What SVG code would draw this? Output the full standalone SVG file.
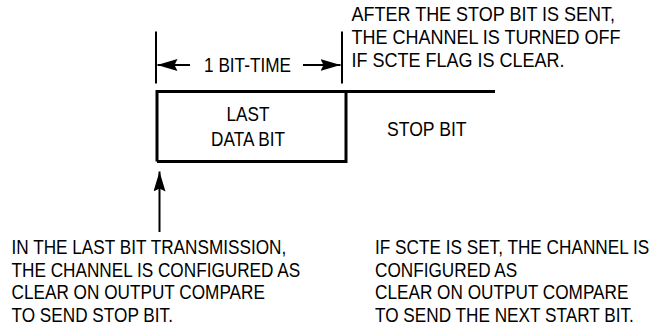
<svg xmlns="http://www.w3.org/2000/svg" width="659" height="336" viewBox="0 0 659 336">
  <style>
    text { font-family: "Liberation Sans", Arial, sans-serif; font-size: 20px; fill: #000; }
    .thin { stroke: #000; stroke-width: 2; fill: none; }
    .thick { stroke: #000; stroke-width: 3; fill: none; }
  </style>
  <defs>
    <marker id="head" viewBox="0 0 20 12" refX="20" refY="6" markerWidth="20" markerHeight="12" markerUnits="userSpaceOnUse" orient="auto">
      <path d="M0,0 L20,6 L0,12 L3,6 z" fill="#000"/>
    </marker>
  </defs>
  <rect width="659" height="336" fill="#fff"/>

  <!-- waveform: last data bit pulse followed by the stop-bit level -->
  <g id="waveform">
    <polyline class="thick" points="157,161.5 157,91.5 346,91.5 346,161.5 157,161.5"/>
    <line class="thick" x1="346" y1="91.5" x2="495" y2="91.5"/>
  </g>

  <g id="last-data-bit">
    <g transform="translate(248,0) scale(0.86,1)">
      <text x="0" y="121" text-anchor="middle">LAST</text>
      <text x="0" y="146" text-anchor="middle">DATA BIT</text>
    </g>
  </g>

  <g id="stop-bit">
    <g transform="translate(387,0) scale(0.88,1)">
      <text x="0" y="136.5">STOP BIT</text>
    </g>
  </g>

  <!-- bit-time dimension -->
  <g id="bit-time">
    <line class="thin" x1="156" y1="31.5" x2="156" y2="83.5"/>
    <line class="thin" x1="342" y1="31.5" x2="342" y2="83.5"/>
    <g transform="translate(247.5,0) scale(0.86,1)">
      <text x="0" y="72" text-anchor="middle">1 BIT-TIME</text>
    </g>
  </g>

  <g id="note-after-stop">
    <g transform="translate(351.5,0) scale(0.9,1)">
      <text x="0" y="21.5">AFTER THE STOP BIT IS SENT,</text>
      <text x="0" y="44.5">THE CHANNEL IS TURNED OFF</text>
      <text x="0" y="67.5">IF SCTE FLAG IS CLEAR.</text>
    </g>
  </g>

  <g id="note-last-bit">
    <g transform="translate(11.5,0) scale(0.86,1)">
      <text x="0" y="254">IN THE LAST BIT TRANSMISSION,</text>
      <text x="0" y="277">THE CHANNEL IS CONFIGURED AS</text>
      <text x="0" y="299.5">CLEAR ON OUTPUT COMPARE</text>
      <text x="0" y="322">TO SEND STOP BIT.</text>
    </g>
  </g>

  <g id="note-scte-set">
    <g transform="translate(375,0) scale(0.86,1)">
      <text x="0" y="254">IF SCTE IS SET, THE CHANNEL IS</text>
      <text x="0" y="277">CONFIGURED AS</text>
      <text x="0" y="299.5">CLEAR ON OUTPUT COMPARE</text>
      <text x="0" y="322">TO SEND THE NEXT START BIT.</text>
    </g>
  </g>

  <g id="connectors">
    <line class="thin" x1="190" y1="65" x2="157.5" y2="65" marker-end="url(#head)"/>
    <line class="thin" x1="303" y1="65" x2="340.5" y2="65" marker-end="url(#head)"/>
    <line class="thin" x1="159.5" y1="232" x2="159.5" y2="171.5" marker-end="url(#head)"/>
  </g>
</svg>
